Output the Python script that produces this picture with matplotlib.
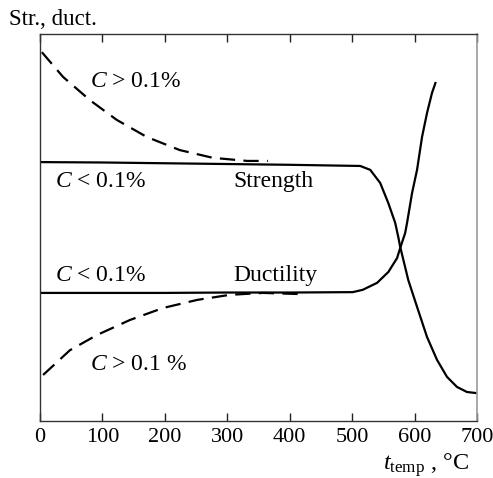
import matplotlib
matplotlib.use("Agg")
import matplotlib.pyplot as plt

plt.rcParams['font.family'] = ['Liberation Serif', 'DejaVu Serif']
plt.rcParams['mathtext.fontset'] = 'custom'
plt.rcParams['mathtext.rm'] = 'Liberation Serif'
plt.rcParams['mathtext.it'] = 'Liberation Serif:italic'
plt.rcParams['lines.scale_dashes'] = False

# Strength, C < 0.1% (solid)
str_low_t = [0, 100, 200, 300, 400, 513, 529, 545, 558, 569, 574, 577, 590, 604, 620, 636, 652, 668, 684, 700]
str_low_y = [0.669, 0.668, 0.666, 0.664, 0.662, 0.659, 0.649, 0.615, 0.563, 0.512, 0.475, 0.450, 0.364, 0.295, 0.217, 0.158, 0.114, 0.088, 0.075, 0.072]

# Ductility, C < 0.1% (solid)
duc_low_t = [0, 100, 200, 300, 400, 501, 517, 540, 558, 572, 577, 585, 588, 596, 604, 612, 620, 628, 634]
duc_low_y = [0.331, 0.331, 0.331, 0.332, 0.332, 0.333, 0.339, 0.357, 0.385, 0.421, 0.447, 0.486, 0.512, 0.589, 0.649, 0.734, 0.796, 0.848, 0.876]

# Strength, C > 0.1% (dashed)
str_high_t = [3, 37, 80, 123, 171, 224, 277, 332, 365]
str_high_y = [0.953, 0.889, 0.829, 0.778, 0.734, 0.700, 0.680, 0.672, 0.672]

# Ductility, C > 0.1% (dashed)
duc_high_t = [5, 48, 91, 144, 197, 252, 304, 357, 417]
duc_high_y = [0.119, 0.183, 0.222, 0.261, 0.292, 0.313, 0.326, 0.331, 0.328]

xticks = [0, 100, 200, 300, 400, 500, 600, 700]

fig = plt.figure(figsize=(4.93, 4.78), dpi=100)
ax = fig.add_axes([0.0811, 0.1192, 0.8864, 0.8097])

lw = 1.6
for t, y in [(str_low_t, str_low_y), (duc_low_t, duc_low_y)]:
    ax.plot(t, y, color='black', lw=lw, solid_capstyle='butt', solid_joinstyle='round')
for t, y in [(str_high_t, str_high_y), (duc_high_t, duc_high_y)]:
    ax.plot(t, y, color='black', lw=lw, linestyle=(0, (11, 6)), dash_capstyle='butt',
            dash_joinstyle='round')

ax.set_xlim(0, 700)
ax.set_ylim(0, 1)
ax.set_xticks(xticks)
ax.set_xticklabels([str(v) for v in xticks])
ax.set_yticks([])
ax.tick_params(axis='x', direction='in', length=6, width=1, top=True, labeltop=False,
               labelsize=16, pad=5, colors='#222222')
ax.tick_params(axis='x', labelcolor='black')
for s in ['left', 'bottom', 'top']:
    ax.spines[s].set_color('#333333')
    ax.spines[s].set_linewidth(1.0)
ax.spines['right'].set_color('#999999')
ax.spines['right'].set_linewidth(1.2)

fs = 17
ax.text(80, 0.876, r'$C$ > 0.1%', fontsize=fs, va='center', ha='left')
ax.text(24, 0.618, r'$C$ < 0.1%', fontsize=fs, va='center', ha='left')
ax.text(309, 0.618, 'Strength', fontsize=fs, va='center', ha='left')
ax.text(24, 0.377, r'$C$ < 0.1%', fontsize=fs, va='center', ha='left')
ax.text(309, 0.377, 'Ductility', fontsize=fs, va='center', ha='left')
ax.text(80, 0.145, r'$C$ > 0.1 %', fontsize=fs, va='center', ha='left')

fig.text(0.018, 0.948, 'Str., duct.', fontsize=16.5, ha='left', va='baseline')
fig.text(0.951, 0.017, r'$t_{\mathrm{temp}}$ , °C', fontsize=17.5, ha='right', va='baseline')

fig.savefig('out.png', dpi=100)
